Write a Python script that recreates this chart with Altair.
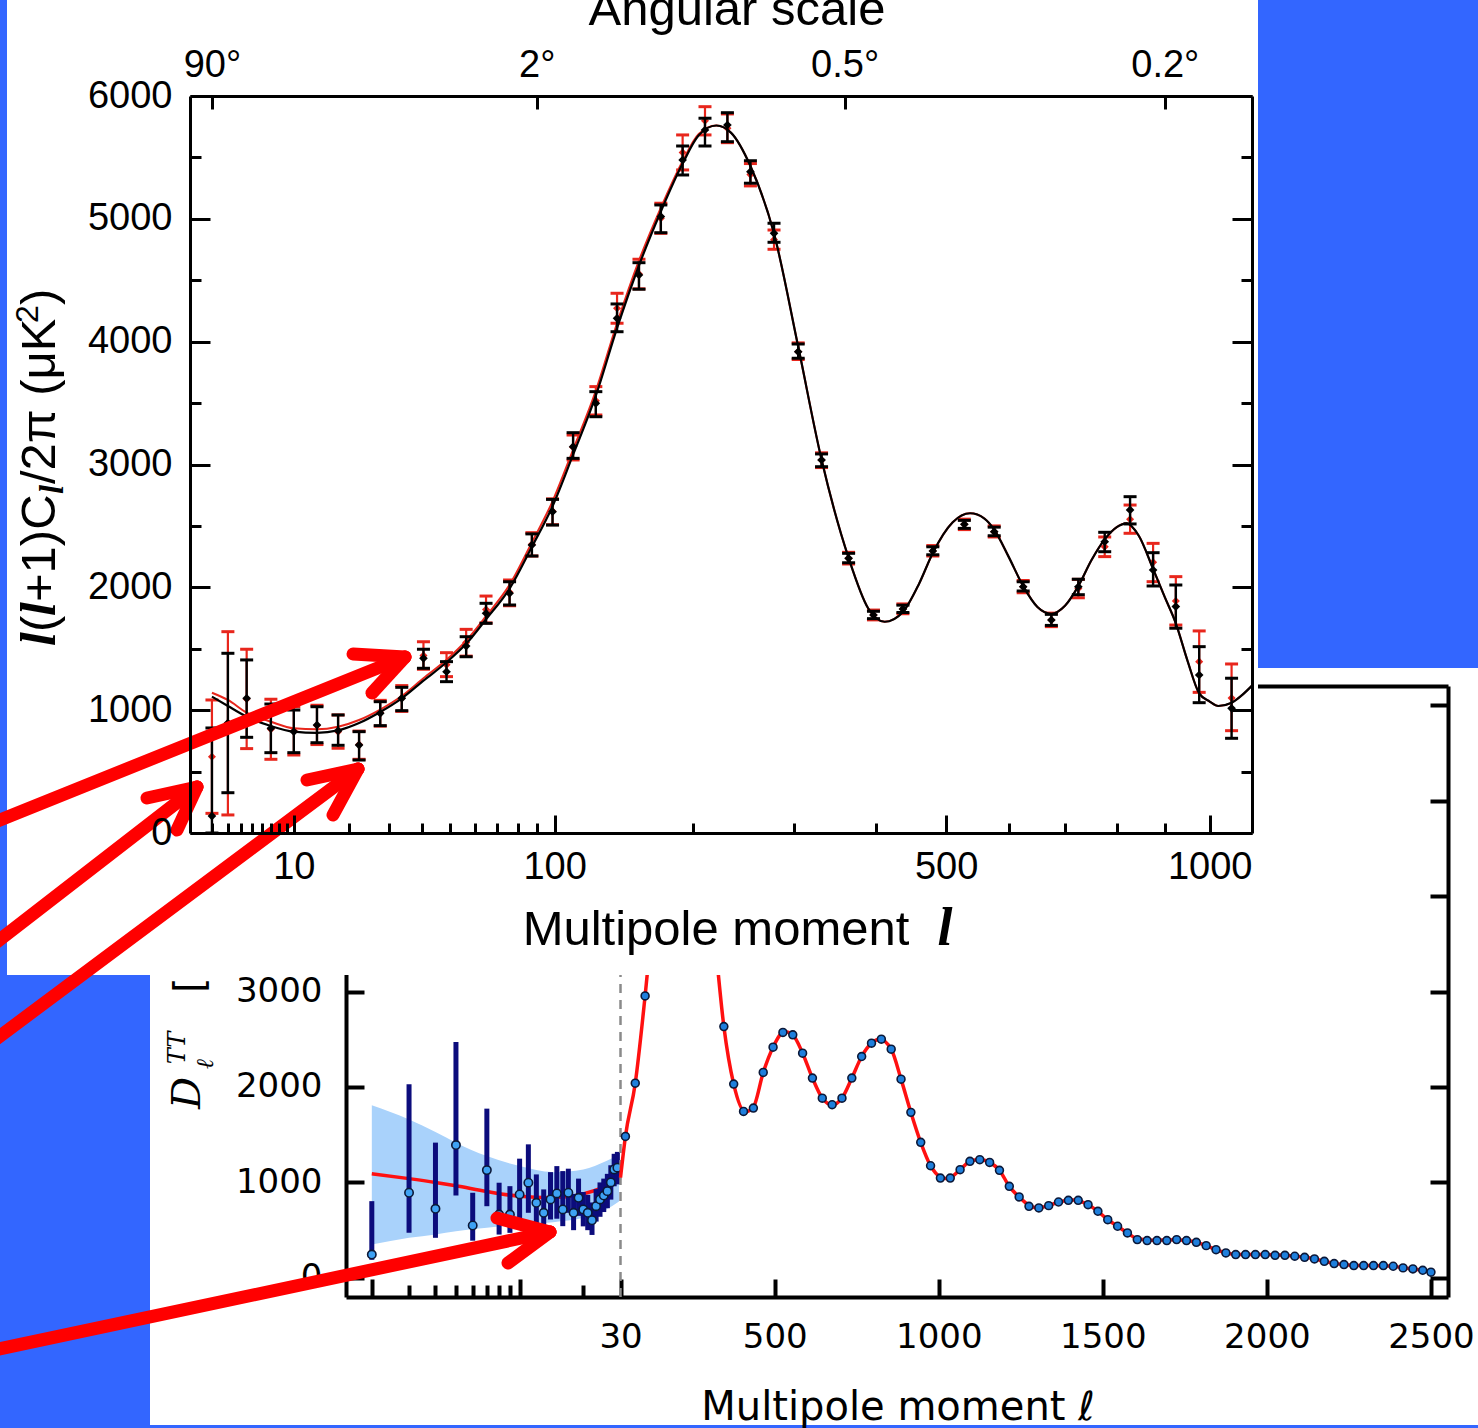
import altair as alt
import pandas as pd

W, H = 1478, 1428
BLUE = "#3366ff"
RED = "#e8261c"
ARROW_RED = "#ff0000"

# ---------------- WMAP binned TT spectrum (upper panel) ----------------
wmap_l = [2, 3, 4.5, 7, 10, 13.7, 17.7, 22.3, 27.6, 33.7, 40.6, 48.8, 56.5, 65, 76,
          87.4, 98.8, 111, 125.5, 140, 156, 173, 191, 210.6, 231.4, 254, 278.5, 305,
          332, 365, 397, 437, 480, 528, 576, 625, 675, 725, 776, 827, 875, 924, 976, 1051]
wmap_d = [138, 895, 1096, 852, 825, 879, 833, 716, 974, 1096, 1422, 1313, 1522, 1789, 1951,
          2345, 2616, 3145, 3498, 4190, 4543, 5018, 5479, 5723, 5764, 5384, 4882, 3918,
          3037, 2236, 1775, 1824, 2296, 2513, 2453, 2005, 1734, 2005, 2372, 2630, 2141, 1843, 1286, 1015]
wmap_lo = [0, 328, 779, 654, 654, 735, 714, 594, 874, 996, 1341, 1232, 1435, 1707, 1856,
           2255, 2507, 3050, 3389, 4081, 4427, 4887, 5357, 5593, 5628, 5290, 4809, 3865,
           2982, 2200, 1745, 1795, 2265, 2480, 2420, 1970, 1690, 1940, 2290, 2516, 2011, 1667, 1061, 771]
wmap_hi = [855, 1463, 1409, 1050, 1001, 1028, 961, 825, 1069, 1186, 1496, 1395, 1598, 1870, 2046,
           2435, 2716, 3259, 3593, 4307, 4643, 5113, 5593, 5819, 5864, 5473, 4964, 3981,
           3086, 2277, 1805, 1855, 2330, 2545, 2490, 2045, 1780, 2066, 2448, 2738, 2282, 2019, 1517, 1260]

# second (red) data release at the same multipoles
red_d = [620, 893, 1091, 845, 832, 875, 825, 720, 980, 1100, 1445, 1370, 1550, 1820, 1960,
         2350, 2620, 3140, 3518, 4272, 4550, 5005, 5540, 5798, 5737, 5360, 4830, 3918,
         3037, 2236, 1775, 1824, 2296, 2513, 2453, 2005, 1734, 1990, 2330, 2555, 2204, 1889, 1395, 1099]
red_lo = [160, 147, 687, 600, 635, 720, 690, 600, 870, 990, 1333, 1273, 1440, 1710, 1850,
          2255, 2510, 3037, 3403, 4150, 4430, 4882, 5398, 5683, 5620, 5268, 4752, 3855,
          2975, 2190, 1735, 1785, 2255, 2470, 2410, 1955, 1680, 1915, 2250, 2440, 2046, 1693, 1145, 833]
red_hi = [1083, 1639, 1496, 1089, 1028, 1040, 961, 830, 1080, 1200, 1557, 1468, 1658, 1929, 2060,
          2445, 2720, 3240, 3634, 4394, 4671, 5127, 5683, 5913, 5854, 5450, 4909, 3990,
          3095, 2285, 1815, 1865, 2340, 2555, 2500, 2055, 1790, 2065, 2410, 2670, 2358, 2087, 1645, 1376]

# best-fit model curves
fit_l = [2, 3, 4.5, 7, 10, 13.7, 17.7, 22.3, 27.6, 33.7, 40.6, 48.8, 56.5, 65, 76, 87.4, 98.8,
         111, 125.5, 140, 156, 173, 191, 205, 221, 235, 254, 278.5, 305, 332, 365, 390, 412,
         437, 460, 480, 510, 537, 560, 576, 600, 625, 650, 675, 700, 725, 750, 776, 800, 820,
         845, 875, 900, 924, 950, 976, 1000, 1020, 1051, 1075, 1100]
fit_black = [1110, 1034, 947, 871, 825, 815, 835, 895, 985, 1096, 1240, 1390, 1540, 1740, 1990,
             2330, 2660, 3080, 3560, 4110, 4620, 5060, 5450, 5680, 5760, 5700, 5430, 4880, 3960,
             3040, 2240, 1830, 1720, 1800, 2030, 2280, 2530, 2603, 2560, 2470, 2250, 2010, 1840,
             1785, 1850, 2010, 2220, 2390, 2490, 2521, 2420, 2150, 1920, 1707, 1400, 1137, 1070,
             1034, 1060, 1120, 1200]
fit_red = [1142, 1083, 980, 906, 852, 844, 865, 920, 1005, 1115, 1260, 1410, 1565, 1765, 2020,
           2365, 2700, 3120, 3600, 4150, 4660, 5090, 5470, 5690, 5760, 5700, 5430, 4880, 3960,
           3040, 2240, 1830, 1720, 1800, 2030, 2280, 2530, 2603, 2560, 2470, 2250, 2010, 1840,
           1785, 1850, 2010, 2220, 2390, 2490, 2521, 2420, 2150, 1920, 1707, 1400, 1137, 1070,
           1034, 1060, 1120, 1200]

# ---------------- Planck TT spectrum (lower panel) ----------------
lowl_l = [2, 3, 4, 5, 6, 7, 8, 9, 10, 11, 12, 13, 14, 15, 16, 17, 18, 19, 20, 21, 22, 23, 24,
          25, 26, 27, 28, 29]
lowl_d = [245, 892, 724, 1392, 549, 1129, 664, 664, 874, 997, 787, 682, 822, 885, 717, 892, 682,
          839, 717, 682, 604, 751, 822, 863, 909, 1000, 1136, 1154]
lowl_lo = [190, 472, 420, 864, 390, 751, 454, 472, 577, 682, 559, 525, 612, 620, 542, 682, 500,
           650, 540, 500, 450, 590, 640, 690, 730, 820, 960, 980]
lowl_hi = [804, 2028, 1417, 2472, 892, 1773, 997, 961, 1249, 1399, 1084, 927, 1108, 1171, 1119,
           1144, 880, 1040, 900, 870, 790, 930, 1000, 1040, 1090, 1180, 1300, 1320]

band_l = [2, 3, 4, 5, 7, 10, 14.4, 20, 25.7, 29.5]
band_lo = [349, 420, 455, 489, 525, 560, 584, 630, 717, 800]
band_hi = [1808, 1660, 1528, 1417, 1276, 1171, 1108, 1136, 1224, 1290]

lowfit_l = [2, 3, 4, 5, 7, 10, 14, 20, 25, 28, 30]
lowfit_d = [1090, 1040, 1000, 965, 905, 855, 840, 880, 950, 1000, 1050]

planck_l = [45, 75, 105, 135, 165, 195, 225, 255, 285, 315, 345, 375, 405, 435, 465, 495, 525,
            555, 585, 615, 645, 675, 705, 735, 765, 795, 825, 855, 885, 915, 945, 975, 1005,
            1035, 1065, 1095, 1125, 1155, 1185, 1215, 1245, 1275, 1305, 1335, 1365, 1395, 1425,
            1455, 1485, 1515, 1545, 1575, 1605, 1635, 1665, 1695, 1725, 1755, 1785, 1815, 1845,
            1875, 1905, 1935, 1965, 1995, 2025, 2055, 2085, 2115, 2145, 2175, 2205, 2235, 2265,
            2295, 2325, 2355, 2385, 2415, 2445, 2475, 2500]
planck_d = [1482, 2040, 2954, 4000, 4900, 5500, 5750, 5500, 4700, 3650, 2633, 2030, 1744, 1779,
            2152, 2417, 2571, 2546, 2354, 2093, 1883, 1814, 1883, 2093, 2319, 2459, 2501, 2396,
            2082, 1734, 1420, 1175, 1046, 1046, 1134, 1221, 1238, 1210, 1127, 959, 848, 750, 733,
            757, 795, 813, 813, 767, 698, 610, 541, 471, 401, 391, 391, 391, 401, 391, 373, 338,
            296, 262, 244, 244, 244, 244, 237, 237, 227, 216, 199, 174, 150, 140, 129, 129, 129,
            129, 122, 105, 94, 80, 60]

hfit_l = [30, 45, 75, 105, 135, 165, 195, 222, 255, 285, 315, 345, 375, 410, 435, 465, 495, 530,
          555, 585, 615, 645, 675, 705, 735, 765, 795, 820, 855, 885, 915, 945, 975, 1005, 1020,
          1035, 1065, 1095, 1125, 1155, 1185, 1215, 1245, 1275, 1300, 1335, 1365, 1410, 1455,
          1485, 1515, 1545, 1575, 1605, 1650, 1720, 1755, 1785, 1815, 1845, 1875, 1905, 1995,
          2055, 2115, 2145, 2175, 2205, 2235, 2265, 2355, 2385, 2415, 2445, 2475, 2500]
hfit_d = [1050, 1482, 2040, 2954, 4000, 4900, 5500, 5760, 5500, 4700, 3650, 2633, 2030, 1740,
          1790, 2152, 2417, 2580, 2546, 2354, 2093, 1883, 1814, 1883, 2093, 2319, 2459, 2501,
          2396, 2082, 1734, 1420, 1175, 1055, 1040, 1050, 1134, 1221, 1240, 1210, 1127, 959, 848,
          760, 735, 757, 795, 815, 767, 698, 610, 541, 471, 410, 395, 400, 391, 373, 338, 296,
          262, 246, 244, 237, 216, 199, 174, 152, 140, 131, 128, 122, 106, 94, 80, 62]

# ---------------- page furniture: background blocks and pointer arrows ----------------
block_x0 = [0, 0, 1258, 150]
block_x1 = [7, 150, 1478, 1478]
block_y0 = [0, 975, 0, 1425]
block_y1 = [975, 1428, 668, 1428]

arrow_x0 = [-20, 405, 405, -20, 197, 197, -20, 358, 358, -20, 550, 550]
arrow_y0 = [828, 657, 657, 955, 787, 787, 1051, 769, 769, 1353, 1232, 1232]
arrow_x1 = [405, 353, 372, 197, 147, 177, 358, 307, 333, 550, 497, 508]
arrow_y1 = [657, 654, 693, 787, 798, 830, 769, 780, 815, 1232, 1218, 1263]

# ---------------- scales (pixel ranges place each panel on the page) ----------------
wx = alt.Scale(type="pow", exponent=0.4, domain=[1, 1100], range=[190, 1252], nice=False, zero=False)
wy = alt.Scale(domain=[0, 6000], range=[833, 96], nice=False, zero=False)
px_lo = alt.Scale(type="log", domain=[1.51, 30], range=[346, 620.5], nice=False)
px_hi = alt.Scale(domain=[30, 2552], range=[620.5, 1448], nice=False, zero=False)
py = alt.Scale(domain=[-200, 6200], range=[1297, 686], nice=False, zero=False)
page_x = alt.Scale(domain=[0, W], range=[0, W], nice=False, zero=False)
page_y = alt.Scale(domain=[0, H], range=[0, H], nice=False, zero=False)

ONE = pd.DataFrame({"k": [0]})
AX_BASE = dict(grid=False, title=None, labelFlush=False, labelOverlap=False, format="d",
               domainColor="black", tickColor="black", labelColor="black")


def axis_carrier(channel, v, scale, **kw):
    props = dict(AX_BASE)
    props.update(kw)
    ax = alt.Axis(**props)
    df = pd.DataFrame({"v": [v]})
    if channel == "x":
        enc = {"x": alt.X("v:Q", scale=scale, axis=ax)}
    else:
        enc = {"y": alt.Y("v:Q", scale=scale, axis=ax)}
    return alt.Chart(df).mark_point(opacity=0).encode(**enc)


def text(t, x, y, **kw):
    return alt.Chart(ONE).mark_text(text=t, **kw).encode(x=alt.value(x), y=alt.value(y))


def caps(ls, lo, hi):
    return pd.DataFrame({"l": list(ls) * 2, "v": list(lo) + list(hi)})


# ---------------- background blocks ----------------
blocks = pd.DataFrame({"x0": block_x0, "x1": block_x1, "y0": block_y0, "y1": block_y1})
block_layer = alt.Chart(blocks).mark_rect(color=BLUE).encode(
    x=alt.X("x0:Q", scale=page_x, axis=None), x2="x1:Q",
    y=alt.Y("y0:Q", scale=page_y, axis=None), y2="y1:Q")

# ---------------- Planck panel ----------------
P_FONT = dict(labelFont="DejaVu Sans", labelFontSize=34, domainWidth=4, tickWidth=4, zindex=0)
p_vals = [0, 1000, 2000, 3000, 4000, 5000, 6000]
planck_axes = [
    axis_carrier("y", 0, py, orient="left", offset=-346, values=[0, 1000, 2000, 3000],
                 ticks=False, tickSize=0, labelPadding=24, **P_FONT),
    axis_carrier("y", 0, py, orient="right", offset=346 - W, values=p_vals, tickSize=18,
                 labels=False, domain=False, **P_FONT),
    axis_carrier("y", 0, py, orient="left", offset=-1448, values=p_vals, tickSize=18,
                 labels=False, domain=True, **P_FONT),
    axis_carrier("x", 10, px_lo, orient="top", offset=-1297, values=[2, 10, 30], tickSize=18,
                 labels=False, domain=True, **P_FONT),
    axis_carrier("x", 10, px_lo, orient="top", offset=-1297, values=[3, 4, 5, 6, 7, 8, 9, 20],
                 tickSize=12, labels=False, domain=False, **P_FONT),
    axis_carrier("x", 100, px_hi, orient="bottom", offset=1297 - H,
                 values=[30, 500, 1000, 1500, 2000, 2500], ticks=False, tickSize=0,
                 labelPadding=23, **P_FONT),
    axis_carrier("x", 100, px_hi, orient="top", offset=-1297,
                 values=[500, 1000, 1500, 2000, 2500], tickSize=18, labels=False, domain=False,
                 **P_FONT),
    axis_carrier("x", 100, px_hi, orient="top", offset=-686, values=[500], ticks=False,
                 labels=False, domain=True, **P_FONT),
]

band = pd.DataFrame({"l": band_l, "lo": band_lo, "hi": band_hi})
lowl = pd.DataFrame({"l": lowl_l, "d": lowl_d, "lo": lowl_lo, "hi": lowl_hi})
lowfit = pd.DataFrame({"l": lowfit_l, "d": lowfit_d})
highl = pd.DataFrame({"l": planck_l, "d": planck_d})
hfit = pd.DataFrame({"l": hfit_l, "d": hfit_d})

xl = alt.X("l:Q", scale=px_lo, axis=None)
xh = alt.X("l:Q", scale=px_hi, axis=None)

planck_layers = [
    alt.Chart(band).mark_area(color="#a9d2fb", opacity=1, interpolate="monotone").encode(
        x=xl, y=alt.Y("lo:Q", scale=py, axis=None), y2="hi:Q"),
    alt.Chart(lowfit).mark_line(color="#ff1010", strokeWidth=3.5, interpolate="monotone").encode(
        x=xl, y=alt.Y("d:Q", scale=py, axis=None)),
    alt.Chart(lowl).mark_rule(color="#0c0c7c", strokeWidth=5).encode(
        x=xl, y=alt.Y("lo:Q", scale=py, axis=None), y2="hi:Q"),
    alt.Chart(lowl).mark_point(shape="circle", filled=True, size=70, fill="#3ea2f4",
                               stroke="#0b1838", strokeWidth=1.6, opacity=1).encode(
        x=xl, y=alt.Y("d:Q", scale=py, axis=None)),
    alt.Chart(pd.DataFrame({"l": [30], "lo": [-200], "hi": [6200]})).mark_rule(
        color="#8a8a8a", strokeWidth=2.5, strokeDash=[9, 7]).encode(
        x=xh, y=alt.Y("lo:Q", scale=py, axis=None), y2="hi:Q"),
    alt.Chart(hfit).mark_line(color="#ff1010", strokeWidth=3.5, interpolate="monotone").encode(
        x=xh, y=alt.Y("d:Q", scale=py, axis=None)),
    alt.Chart(highl).mark_point(shape="circle", filled=True, size=62, fill="#1f7fdc",
                                stroke="#0b1838", strokeWidth=1.6, opacity=1).encode(
        x=xh, y=alt.Y("d:Q", scale=py, axis=None)),
]

planck_text = [
    text("Multipole moment \u2113", 898, 1420, font="DejaVu Sans", fontSize=40,
         align="center", baseline="alphabetic", color="black"),
    text("D", 200, 1093, font="DejaVu Serif", fontStyle="italic", fontSize=40, angle=270,
         align="center", baseline="alphabetic", color="black"),
    text("TT", 185, 1048, font="DejaVu Serif", fontStyle="italic", fontSize=24, angle=270,
         align="center", baseline="alphabetic", color="black"),
    text("\u2113", 213, 1064, font="DejaVu Serif", fontStyle="italic", fontSize=24, angle=270,
         align="center", baseline="alphabetic", color="black"),
    text("[\u03bcK\u00b2]", 203, 993, font="DejaVu Sans", fontSize=40, angle=270,
         align="left", baseline="alphabetic", color="black"),
]

# ---------------- WMAP panel (drawn over the Planck panel) ----------------
wmap_panel = alt.Chart(ONE).mark_rect(color="white").encode(
    x=alt.value(7), x2=alt.value(1258), y=alt.value(0), y2=alt.value(975))

W_FONT = dict(labelFont="Liberation Sans", labelFontSize=38, domainWidth=3, tickWidth=3, zindex=1)
w_major = [0, 1000, 2000, 3000, 4000, 5000, 6000]
w_minor = [500, 1500, 2500, 3500, 4500, 5500]
w_xminor = [2, 3, 4, 5, 6, 7, 8, 9, 20, 30, 40, 50, 60, 70, 80, 90, 200, 300, 400, 600, 700, 800, 900]
angle_expr = ("datum.value == 2 ? '90\u00b0' : datum.value == 90 ? '2\u00b0' : "
              "datum.value == 360 ? '0.5\u00b0' : '0.2\u00b0'")
wmap_axes = [
    axis_carrier("y", 1000, wy, orient="left", offset=-190, values=w_major, ticks=False,
                 tickSize=0, labelPadding=18, **W_FONT),
    axis_carrier("y", 1000, wy, orient="right", offset=190 - W, values=w_major, tickSize=20,
                 labels=False, domain=False, **W_FONT),
    axis_carrier("y", 1000, wy, orient="right", offset=190 - W, values=w_minor, tickSize=11,
                 labels=False, domain=False, **W_FONT),
    axis_carrier("y", 1000, wy, orient="left", offset=-1252, values=w_major, tickSize=20,
                 labels=False, domain=True, **W_FONT),
    axis_carrier("y", 1000, wy, orient="left", offset=-1252, values=w_minor, tickSize=11,
                 labels=False, domain=False, **W_FONT),
    axis_carrier("x", 10, wx, orient="bottom", offset=833 - H, values=[10, 100, 500, 1000],
                 ticks=False, tickSize=0, labelPadding=15, **W_FONT),
    axis_carrier("x", 10, wx, orient="top", offset=-833, values=[10, 100, 500, 1000],
                 tickSize=18, labels=False, domain=False, **W_FONT),
    axis_carrier("x", 10, wx, orient="top", offset=-833, values=w_xminor, tickSize=10,
                 labels=False, domain=False, **W_FONT),
    axis_carrier("x", 10, wx, orient="top", offset=-96, values=[2, 90, 360, 900],
                 labelExpr=angle_expr, ticks=False, tickSize=0, labelPadding=12, **W_FONT),
    axis_carrier("x", 10, wx, orient="bottom", offset=96 - H, values=[2, 90, 360, 900],
                 tickSize=13, labels=False, domain=False, **W_FONT),
]

wmap = pd.DataFrame({"l": wmap_l, "d": wmap_d, "lo": wmap_lo, "hi": wmap_hi})
wred = pd.DataFrame({"l": wmap_l, "d": red_d, "lo": red_lo, "hi": red_hi})
fits = pd.DataFrame({"l": fit_l, "black": fit_black, "red": fit_red})
xw = alt.X("l:Q", scale=wx, axis=None)

wmap_layers = [
    alt.Chart(fits).mark_line(color=RED, strokeWidth=2, interpolate="monotone").encode(
        x=xw, y=alt.Y("red:Q", scale=wy, axis=None)),
    alt.Chart(wred).mark_rule(color=RED, strokeWidth=2.2).encode(
        x=xw, y=alt.Y("lo:Q", scale=wy, axis=None), y2="hi:Q"),
    alt.Chart(caps(wmap_l, red_lo, red_hi)).mark_tick(
        orient="horizontal", color=RED, size=13, thickness=3, opacity=1).encode(
        x=xw, y=alt.Y("v:Q", scale=wy, axis=None)),
    alt.Chart(wred).mark_point(shape="diamond", filled=True, size=65, color=RED, opacity=1).encode(
        x=xw, y=alt.Y("d:Q", scale=wy, axis=None)),
    alt.Chart(fits).mark_line(color="black", strokeWidth=2.2, interpolate="monotone").encode(
        x=xw, y=alt.Y("black:Q", scale=wy, axis=None)),
    alt.Chart(wmap).mark_rule(color="black", strokeWidth=2.4).encode(
        x=xw, y=alt.Y("lo:Q", scale=wy, axis=None), y2="hi:Q"),
    alt.Chart(caps(wmap_l, wmap_lo, wmap_hi)).mark_tick(
        orient="horizontal", color="black", size=13, thickness=3, opacity=1).encode(
        x=xw, y=alt.Y("v:Q", scale=wy, axis=None)),
    alt.Chart(wmap).mark_point(shape="diamond", filled=True, size=75, color="black", opacity=1).encode(
        x=xw, y=alt.Y("d:Q", scale=wy, axis=None)),
]

# vertical axis title of the upper panel, set piece by piece (bottom to top)
YT_X = 55
yt_main = dict(font="Liberation Sans", fontSize=49, angle=270, align="left",
               baseline="alphabetic", color="black")
yt_ell = dict(font="Liberation Serif", fontStyle="italic", fontWeight="bold", angle=270,
              align="left", baseline="alphabetic", color="black")
ytitle = [
    text("l", YT_X, 646, fontSize=50, **yt_ell),
    text("(", YT_X, 632, **yt_main),
    text("l", YT_X, 616, fontSize=50, **yt_ell),
    text("+1)C", YT_X, 602, **yt_main),
    text("l", YT_X + 8, 494, fontSize=33, **yt_ell),
    text("/2\u03c0 (\u03bcK", YT_X, 484, **yt_main),
    text("2", YT_X - 17, 323, font="Liberation Sans", fontSize=32, angle=270, align="left",
         baseline="alphabetic", color="black"),
    text(")", YT_X, 305, **yt_main),
]

wmap_text = [
    text("Angular scale", 737, 25, font="Liberation Sans", fontSize=49, align="center",
         baseline="alphabetic", color="black"),
    text("Multipole moment", 716, 945, font="Liberation Sans", fontSize=49, align="center",
         baseline="alphabetic", color="black"),
    text("l", 945, 945, font="Liberation Serif", fontSize=54, fontStyle="italic",
         fontWeight="bold", align="center", baseline="alphabetic", color="black"),
] + ytitle

# ---------------- pointer arrows ----------------
arrows = pd.DataFrame({"x0": arrow_x0, "y0": arrow_y0, "x1": arrow_x1, "y1": arrow_y1})
arrow_layer = alt.Chart(arrows).mark_rule(color=ARROW_RED, strokeWidth=13, strokeCap="round").encode(
    x=alt.X("x0:Q", scale=page_x, axis=None), x2="x1:Q",
    y=alt.Y("y0:Q", scale=page_y, axis=None), y2="y1:Q")

chart = alt.layer(
    block_layer,
    *planck_axes,
    *planck_layers,
    *planck_text,
    wmap_panel,
    *wmap_axes,
    *wmap_layers,
    *wmap_text,
    arrow_layer,
).resolve_scale(x="independent", y="independent").properties(
    width=W, height=H, autosize=alt.AutoSizeParams(type="none"), padding=0, background="white"
).configure_view(stroke=None)

chart.save("out.html", embed_options={"renderer": "svg", "actions": False})
